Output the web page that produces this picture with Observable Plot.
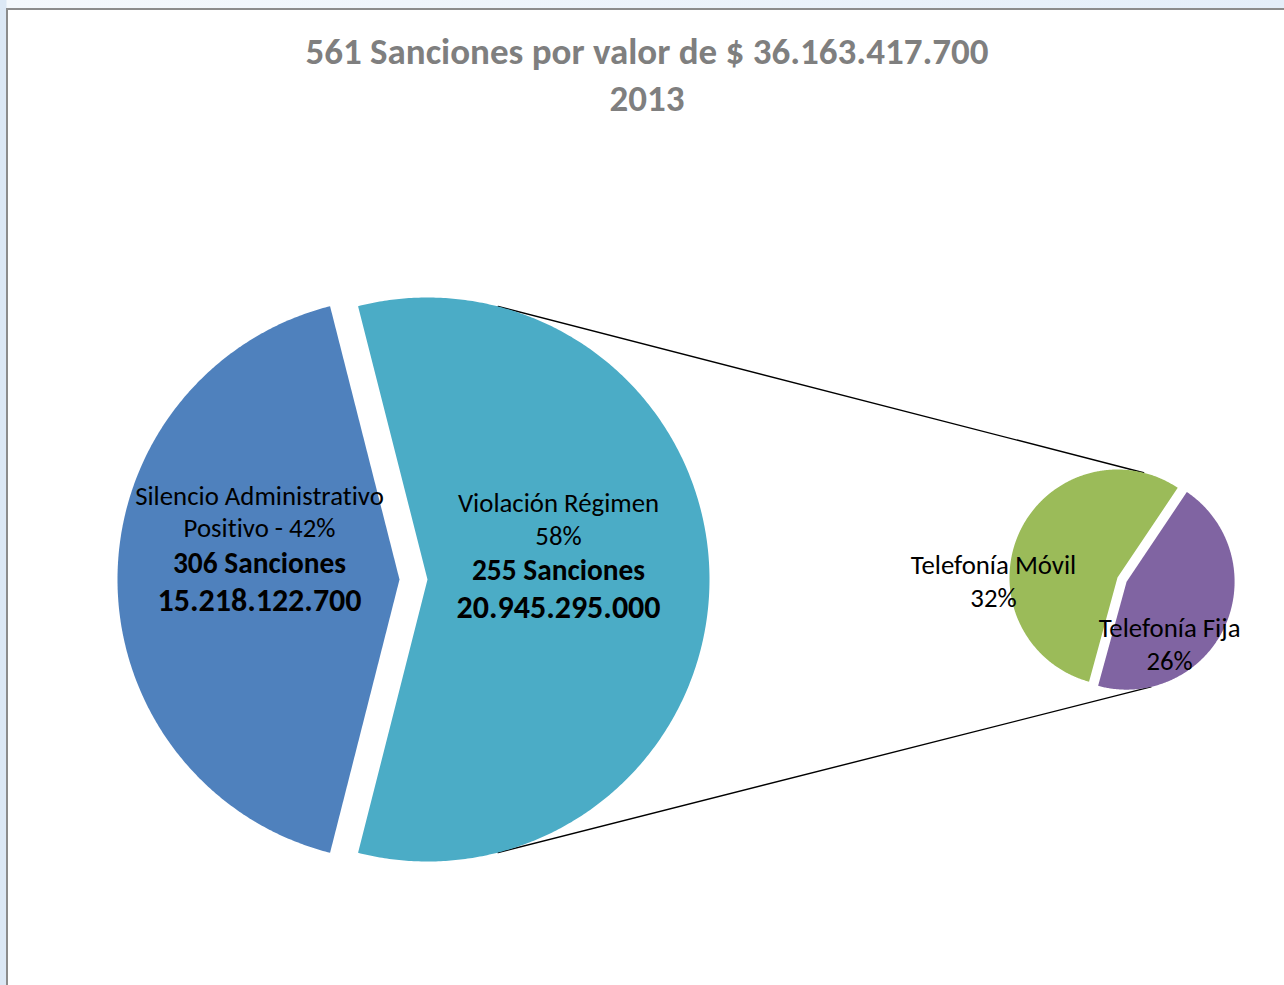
<!DOCTYPE html>
<html>
<head>
<meta charset="utf-8">
<script src="https://cdn.jsdelivr.net/npm/d3@7"></script>
<script src="https://cdn.jsdelivr.net/npm/@observablehq/plot@0.6"></script>
<style>
  html, body { margin: 0; padding: 0; }
  body {
    width: 1284px; height: 985px; overflow: hidden; position: relative;
    background: linear-gradient(to right, #dce8f5 0px, #dce8f5 6px, #f4f8fc 7px, #e4eef9 1284px);
    font-family: Calibri, Carlito, Lato, sans-serif;
    font-variant-ligatures: none;
  }
  #frame {
    position: absolute; left: 6px; top: 8px; width: 1300px; height: 1000px;
    border-left: 2px solid #8c8c8c; border-top: 2px solid #8c8c8c;
    background: #fff;
  }
  #title {
    width: 1278px; height: 121px; box-sizing: border-box; padding-top: 18px;
    text-align: center; color: #7f7f7f; font-weight: bold; font-size: 37px; line-height: 47px;
  }
  #chart svg { display: block; }
  #chart svg text { font-variant-ligatures: none; font-feature-settings: "liga" 0, "clig" 0; }
</style>
</head>
<body>
<div id="frame">
  <div id="title"></div>
  <div id="chart"></div>
</div>
<script>
// ---- data ----
const totalCount = 561;
const totalAmount = 36163417700;
const year = 2013;
const categories = ["Silencio Administrativo Positivo", "Violación Régimen"];
const shares = [42, 58];
const counts = [306, 255];
const amounts = [15218122700, 20945295000];
const subCategories = ["Telefonía Fija", "Telefonía Móvil"];
const subShares = [26, 32];
const colors = ["#4f81bd", "#4bacc6"];
const subColors = ["#8064a2", "#9bbb59"];

const fmt = n => d3.format(",")(n).replace(/,/g, ".");

document.getElementById("title").innerHTML =
  `${totalCount} Sanciones por valor de $ ${fmt(totalAmount)}<br>${year}`;

// ---- layout (page pixel coordinates) ----
const R = 282, r = 108;
const rad = a => a * Math.PI / 180;
const pt = (cx, cy, rr, a) => [cx + rr * Math.sin(rad(a)), cy - rr * Math.cos(rad(a))];

const sumA = d3.sum(amounts);
const tealSpan = 360 * amounts[1] / sumA;
const tealStart = 90 - tealSpan / 2;
const big = [
  {i: 0, cx: 399, cy: 579, rr: R, a0: tealStart + tealSpan, a1: tealStart + 360},
  {i: 1, cx: 427, cy: 579, rr: R, a0: tealStart, a1: tealStart + tealSpan}
].map(s => ({...s, name: categories[s.i], color: colors[s.i]}));

const sumS = d3.sum(subShares);
const fijaSpan = 360 * subShares[0] / sumS;
const fijaStart = 33.9;
const gcx = 1117, gcy = 577;
const fMid = fijaStart + fijaSpan / 2;
const [pcx, pcy] = pt(gcx, gcy, 10, fMid);
const small = [
  {i: 0, cx: pcx, cy: pcy, rr: r, a0: fijaStart, a1: fijaStart + fijaSpan},
  {i: 1, cx: gcx, cy: gcy, rr: r, a0: fijaStart + fijaSpan, a1: fijaStart + 360}
].map(s => ({...s, name: subCategories[s.i], color: subColors[s.i]}));

const slices = [...big, ...small];
const pts = [];
for (const s of slices) {
  pts.push({name: s.name, color: s.color, x: s.cx, y: s.cy});
  const n = Math.ceil(s.a1 - s.a0) * 2;
  for (let k = 0; k <= n; k++) {
    const [x, y] = pt(s.cx, s.cy, s.rr, s.a0 + (s.a1 - s.a0) * k / n);
    pts.push({name: s.name, color: s.color, x, y});
  }
}

// connector lines
const conn = [
  {id: "top", p: [pt(big[1].cx, big[1].cy, R, 14.5), pt(gcx, gcy, r, 14)]},
  {id: "bot", p: [pt(big[1].cx, big[1].cy, R, 165.5), pt(pcx, pcy, r, 167)]}
].flatMap(c => c.p.map(([x, y]) => ({id: c.id, x, y})));

// labels
const blueWords = categories[0].split(" ");
const labelsReg = [
  {cx: big[0].cx - 140, cy: big[0].cy - 83, t: blueWords.slice(0, 2).join(" ")},
  {cx: big[0].cx - 140, cy: big[0].cy - 51, t: `${blueWords.slice(2).join(" ")} - ${shares[0]}%`},
  {cx: big[1].cx + 131, cy: big[1].cy - 76, t: categories[1]},
  {cx: big[1].cx + 131, cy: big[1].cy - 43, t: `${shares[1]}%`},
  {cx: gcx - 124, cy: gcy - 12, t: subCategories[1]},
  {cx: gcx - 124, cy: gcy + 21, t: `${subShares[1]}%`},
  {cx: pcx + 43, cy: pcy + 47, t: subCategories[0]},
  {cx: pcx + 43, cy: pcy + 80, t: `${subShares[0]}%`}
];
const labelsCount = [
  {cx: big[0].cx - 140, cy: big[0].cy - 16, t: `${counts[0]} Sanciones`},
  {cx: big[1].cx + 131, cy: big[1].cy - 9, t: `${counts[1]} Sanciones`}
];
const labelsAmt = [
  {cx: big[0].cx - 140, cy: big[0].cy + 21, t: fmt(amounts[0])},
  {cx: big[1].cx + 131, cy: big[1].cy + 28, t: fmt(amounts[1])}
];

const W = 1276, H = 854, X0 = 8, Y0 = 131;
const font = "Calibri, Carlito, Lato, sans-serif";
const chart = Plot.plot({
  width: W, height: H, margin: 0,
  x: {domain: [X0, X0 + W], range: [0, W], axis: null},
  y: {domain: [Y0, Y0 + H], range: [0, H], axis: null},
  color: {type: "identity"},
  style: {background: "#fff", fontFamily: font, overflow: "visible"},
  marks: [
    Plot.line(conn, {x: "x", y: "y", z: "id", stroke: "#000", strokeWidth: 1.4}),
    Plot.line(pts, {x: "x", y: "y", z: "name", fill: "color", stroke: null, curve: "linear"}),
    Plot.text(labelsReg, {x: "cx", y: "cy", text: "t", fontSize: 26.8, fill: "#000", textAnchor: "middle", lineAnchor: "middle"}),
    Plot.text(labelsCount, {x: "cx", y: "cy", text: "t", fontSize: 29.4, fontWeight: "bold", fill: "#000", textAnchor: "middle", lineAnchor: "middle"}),
    Plot.text(labelsAmt, {x: "cx", y: "cy", text: "t", fontSize: 32, fontWeight: "bold", fill: "#000", textAnchor: "middle", lineAnchor: "middle"})
  ]
});
document.getElementById("chart").appendChild(chart);
</script>
</body>
</html>
